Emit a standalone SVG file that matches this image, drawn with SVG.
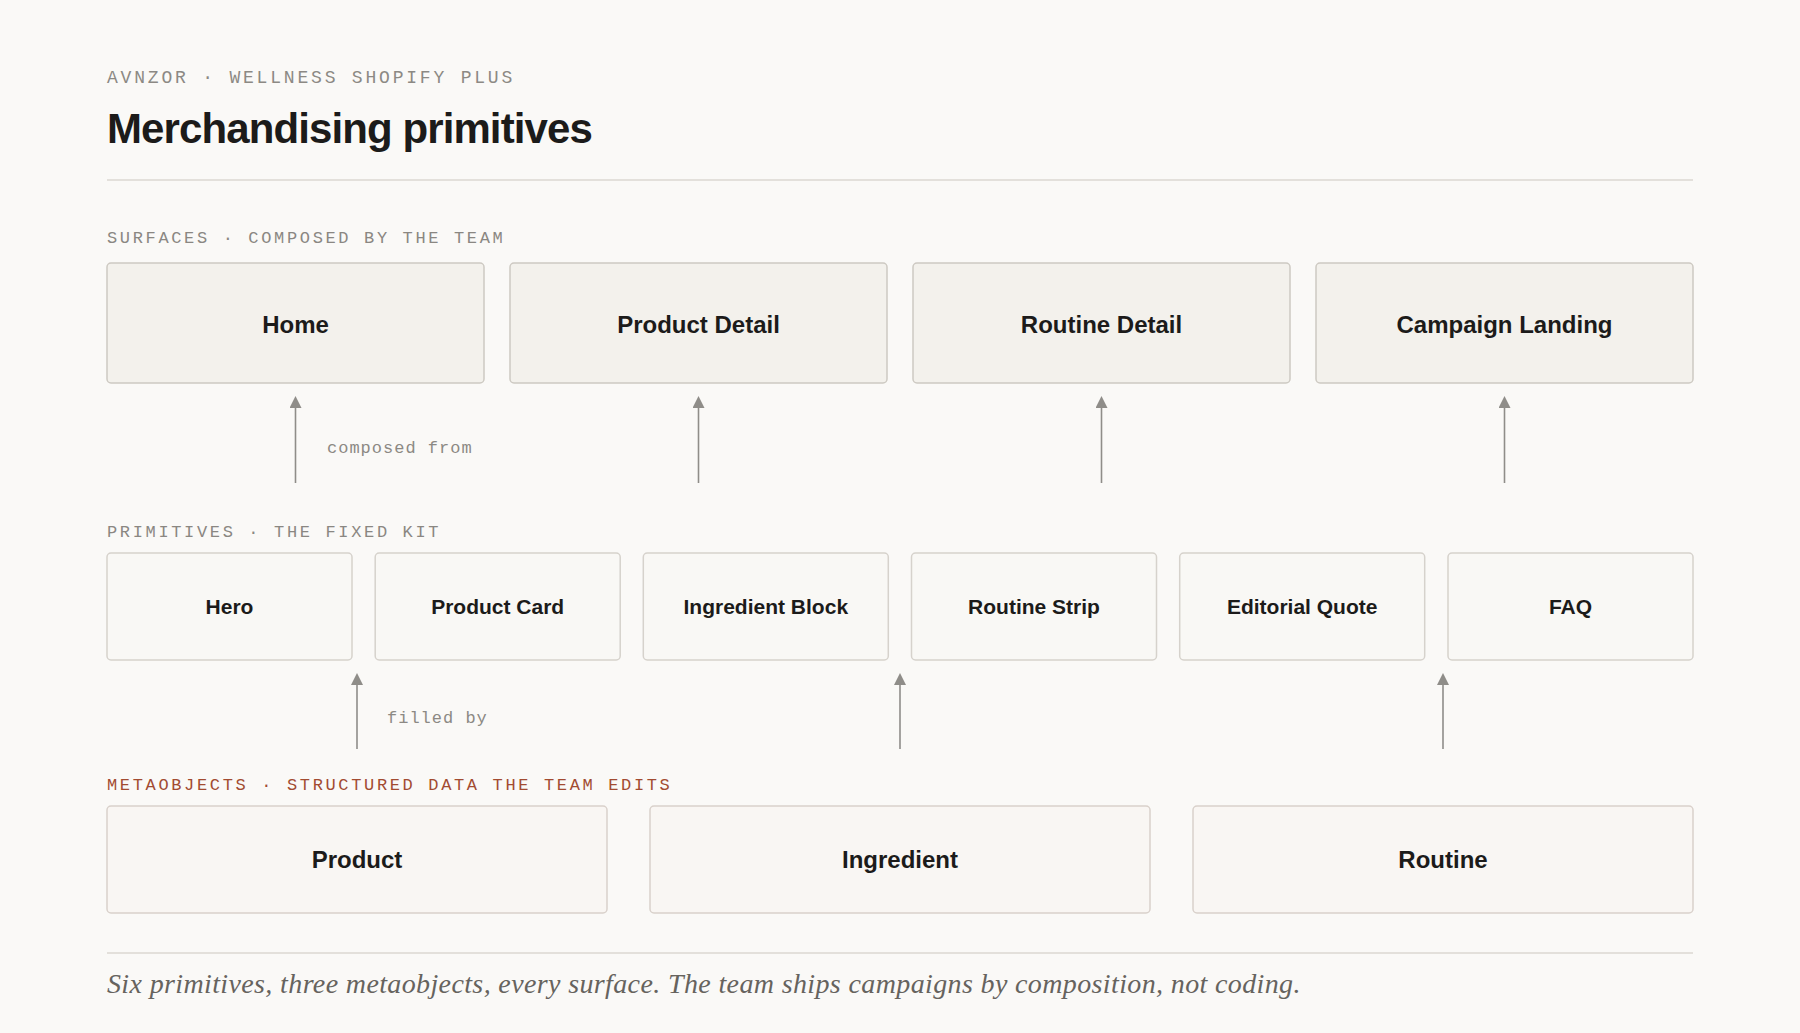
<svg xmlns="http://www.w3.org/2000/svg" width="1800" height="1033" viewBox="0 0 1800 1033">
<defs>
<style>
.bg{fill:#faf9f7}
.eyebrow{font-family:"Liberation Mono","DejaVu Sans Mono",monospace;font-size:18px;letter-spacing:2.8px;fill:#8c8984}
.sect{font-family:"Liberation Mono","DejaVu Sans Mono",monospace;font-size:17px;letter-spacing:2.65px;fill:#8a8782}
.sect.meta{fill:#a24b31}
.title{font-family:"Liberation Sans",Arial,sans-serif;font-size:42px;font-weight:600;letter-spacing:-0.9px;fill:#1c1b1a}
.rule{stroke:#e3e0db;stroke-width:2}
.surf rect{fill:#f3f1ec;stroke:#cdc9c2;stroke-width:1.5}
.prim rect{fill:#f9f8f5;stroke:#d6d2cc;stroke-width:1.5}
.mobj rect{fill:#f9f6f3;stroke:#d9d1cb;stroke-width:1.5}
.surf text,.mobj text{font-family:"Liberation Sans",Arial,sans-serif;font-size:24px;font-weight:600;fill:#1c1b1a;text-anchor:middle}
.prim text{font-family:"Liberation Sans",Arial,sans-serif;font-size:21px;font-weight:600;fill:#1c1b1a;text-anchor:middle}
.conn line{stroke:#8f8d89;stroke-width:1.6;marker-end:url(#ah)}
.clabel{font-family:"Liberation Mono","DejaVu Sans Mono",monospace;font-size:17px;letter-spacing:1px;fill:#8c8984}
.caption{font-family:"Liberation Serif","Times New Roman",serif;font-style:italic;font-size:28px;letter-spacing:0.37px;fill:#66635e}
</style>
<marker id="ah" markerUnits="userSpaceOnUse" markerWidth="12" markerHeight="12" viewBox="0 0 12 12" refX="4" refY="6" orient="auto">
<path d="M0,0 L12,6 L0,12 Z" fill="#8f8d89"/>
</marker>
</defs>
<rect class="bg" x="0" y="0" width="1800" height="1033"/>

<text class="eyebrow" x="107" y="83">AVNZOR · WELLNESS SHOPIFY PLUS</text>
<text class="title" x="107" y="143">Merchandising primitives</text>
<line class="rule" x1="107" y1="180" x2="1693" y2="180"/>

<text class="sect" x="107" y="243">SURFACES · COMPOSED BY THE TEAM</text>
<g id="surface-home" class="surf"><rect x="107" y="263" width="377" height="120" rx="4"/><text x="295.5" y="333">Home</text></g>
<g id="surface-product-detail" class="surf"><rect x="510" y="263" width="377" height="120" rx="4"/><text x="698.5" y="333">Product Detail</text></g>
<g id="surface-routine-detail" class="surf"><rect x="913" y="263" width="377" height="120" rx="4"/><text x="1101.5" y="333">Routine Detail</text></g>
<g id="surface-campaign-landing" class="surf"><rect x="1316" y="263" width="377" height="120" rx="4"/><text x="1504.5" y="333">Campaign Landing</text></g>

<text class="sect" x="107" y="537">PRIMITIVES · THE FIXED KIT</text>
<g id="prim-hero" class="prim"><rect x="107" y="553" width="245" height="107" rx="4"/><text x="229.5" y="614">Hero</text></g>
<g id="prim-product-card" class="prim"><rect x="375.2" y="553" width="245" height="107" rx="4"/><text x="497.7" y="614">Product Card</text></g>
<g id="prim-ingredient-block" class="prim"><rect x="643.3" y="553" width="245" height="107" rx="4"/><text x="765.8" y="614">Ingredient Block</text></g>
<g id="prim-routine-strip" class="prim"><rect x="911.5" y="553" width="245" height="107" rx="4"/><text x="1034" y="614">Routine Strip</text></g>
<g id="prim-editorial-quote" class="prim"><rect x="1179.7" y="553" width="245" height="107" rx="4"/><text x="1302.2" y="614">Editorial Quote</text></g>
<g id="prim-faq" class="prim"><rect x="1448" y="553" width="245" height="107" rx="4"/><text x="1570.5" y="614">FAQ</text></g>

<text class="sect meta" x="107" y="790">METAOBJECTS · STRUCTURED DATA THE TEAM EDITS</text>
<g id="meta-product" class="mobj"><rect x="107" y="806" width="500" height="107" rx="4"/><text x="357" y="868">Product</text></g>
<g id="meta-ingredient" class="mobj"><rect x="650" y="806" width="500" height="107" rx="4"/><text x="900" y="868">Ingredient</text></g>
<g id="meta-routine" class="mobj"><rect x="1193" y="806" width="500" height="107" rx="4"/><text x="1443" y="868">Routine</text></g>

<g id="connectors" class="conn">
<line x1="295.5" y1="483" x2="295.5" y2="404"/>
<line x1="698.5" y1="483" x2="698.5" y2="404"/>
<line x1="1101.5" y1="483" x2="1101.5" y2="404"/>
<line x1="1504.5" y1="483" x2="1504.5" y2="404"/>
<line x1="357" y1="749" x2="357" y2="681"/>
<line x1="900" y1="749" x2="900" y2="681"/>
<line x1="1443" y1="749" x2="1443" y2="681"/>
<text class="clabel" x="327" y="453">composed from</text>
<text class="clabel" x="387" y="723">filled by</text>
</g>

<line class="rule" x1="107" y1="953" x2="1693" y2="953"/>
<text class="caption" x="107" y="993">Six primitives, three metaobjects, every surface. The team ships campaigns by composition, not coding.</text>
</svg>
